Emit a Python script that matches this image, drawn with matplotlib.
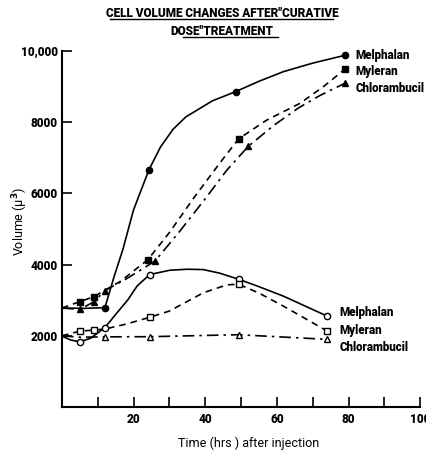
import matplotlib.pyplot as plt
from matplotlib.lines import Line2D

plt.rcParams['font.family'] = ['Roboto', 'DejaVu Sans']
plt.rcParams['font.weight'] = 'heavy'

# points (hrs, volume)
mel_hi_x = [12, 24.3, 48.5, 79]
mel_hi_y = [2790, 6665, 8860, 9880]
myl_hi_x = [5, 9, 24, 49.3, 79]
myl_hi_y = [2960, 3100, 4140, 7530, 9490]
chl_hi_x = [5, 9, 12, 26, 52, 79]
chl_hi_y = [2740, 2960, 3270, 4100, 7320, 9095]

mel_lo_x = [5, 12, 24.5, 49.3, 74.1]
mel_lo_y = [1830, 2230, 3720, 3590, 2550]
myl_lo_x = [5, 9, 24.5, 49.3, 74.1]
myl_lo_y = [2130, 2160, 2520, 3450, 2130]
chl_lo_x = [12, 24.5, 49.3, 74.1]
chl_lo_y = [1970, 1975, 2030, 1900]

# curve traces
mel_hi_tx = [0, 6, 12, 14.6, 17, 20, 24.3, 27.5, 31, 34.6, 42, 48.5, 55, 61.8, 70, 79]
mel_hi_ty = [2780, 2770, 2790, 3675, 4420, 5540, 6665, 7300, 7800, 8150, 8600, 8860, 9150, 9420, 9660, 9880]
myl_hi_tx = [0, 5, 9, 12, 16.4, 24, 30, 37, 44.2, 49.3, 57, 66.5, 73, 79]
myl_hi_ty = [2780, 2960, 3100, 3280, 3535, 4140, 4900, 5900, 6870, 7530, 8050, 8534, 9000, 9490]
chl_hi_tx = [0, 5, 9, 12, 18, 26, 33, 40, 46, 52, 59, 66, 72, 79]
chl_hi_ty = [2780, 2740, 2960, 3270, 3600, 4100, 4950, 5850, 6650, 7320, 7900, 8400, 8750, 9095]

mel_lo_tx = [0, 2.5, 5, 8, 12, 15, 18.4, 21, 24.5, 30, 35, 39.5, 44, 49.3, 55, 61.8, 68, 74.1]
mel_lo_ty = [1990, 1880, 1830, 1930, 2230, 2600, 3010, 3400, 3720, 3840, 3870, 3860, 3760, 3590, 3380, 3115, 2830, 2550]
myl_lo_tx = [0, 5, 9, 12, 18, 24.5, 30, 39.5, 46, 49.3, 55, 61.8, 68, 74.1]
myl_lo_ty = [2000, 2130, 2160, 2190, 2330, 2520, 2695, 3210, 3430, 3450, 3200, 2835, 2480, 2130]
chl_lo_tx = [0, 5, 12, 24.5, 49.3, 74.1]
chl_lo_ty = [2000, 1960, 1970, 1975, 2030, 1900]

yticks = [2000, 4000, 6000, 8000, 10000]
ylabels = ['2000', '4000', '6000', '8000', '10,000']
xticks = [20, 40, 60, 80, 100]
xminor = [10, 30, 50, 70, 90]

fig = plt.figure(figsize=(4.27, 4.5), dpi=100)
ax = fig.add_axes([0.145, 0.0956, 0.839, 0.791])

lw = 1.2
ax.plot(mel_hi_tx, mel_hi_ty, color='black', lw=lw, ls='-')
ax.plot(myl_hi_tx, myl_hi_ty, color='black', lw=lw, ls=(0, (4, 3)))
ax.plot(chl_hi_tx, chl_hi_ty, color='black', lw=lw, ls=(0, (7, 3, 1.5, 3)))
ax.plot(mel_lo_tx, mel_lo_ty, color='black', lw=lw, ls='-')
ax.plot(myl_lo_tx, myl_lo_ty, color='black', lw=lw, ls=(0, (4, 3)))
ax.plot(chl_lo_tx, chl_lo_ty, color='black', lw=lw, ls=(0, (7, 3, 1.5, 3)))

ms = 4.5
ax.plot(mel_hi_x, mel_hi_y, 'o', color='black', ms=ms)
ax.plot(myl_hi_x, myl_hi_y, 's', color='black', ms=ms)
ax.plot(chl_hi_x, chl_hi_y, '^', color='black', ms=ms)
ax.plot(mel_lo_x, mel_lo_y, 'o', mfc='white', mec='black', mew=1, ms=ms)
ax.plot(myl_lo_x, myl_lo_y, 's', mfc='white', mec='black', mew=1, ms=ms)
ax.plot(chl_lo_x, chl_lo_y, '^', mfc='white', mec='black', mew=1, ms=ms)

ax.set_xlim(0, 100)
ax.set_ylim(0, 10000)
for s in ['top', 'right']:
    ax.spines[s].set_visible(False)
for s in ['left', 'bottom']:
    ax.spines[s].set_linewidth(1.5)

ax.set_xticks(xticks)
ax.set_xticks(xminor, minor=True)
ax.set_yticks(yticks)
ax.set_yticklabels(ylabels)
ax.tick_params(which='both', direction='in', length=7, width=1.2, labelsize=8.5)
ax.tick_params(axis='x', pad=4)
ax.tick_params(axis='y', pad=3)

ax.set_xlabel('Time (hrs ) after injection', fontsize=9)
ax.xaxis.set_label_coords(0.52, -0.083)
ax.set_ylabel('Volume (μ$^3$)', fontsize=9)
ax.yaxis.set_label_coords(-0.09, 0.52)

# series labels
for txt, yy in [('Melphalan', 9880), ('Myleran', 9420), ('Chlorambucil', 8960)]:
    ax.text(82, yy, txt, fontsize=8.3, va='center', ha='left')
for txt, yy in [('Melphalan', 2650), ('Myleran', 2140), ('Chlorambucil', 1660)]:
    ax.text(77.5, yy, txt, fontsize=8.3, va='center', ha='left')

fig.text(0.52, 0.969, 'CELL VOLUME CHANGES AFTER"CURATIVE', ha='center', va='center', fontsize=8.5)
fig.text(0.52, 0.929, 'DOSE"TREATMENT', ha='center', va='center', fontsize=8.5)
fig.add_artist(Line2D([110 / 427, 333 / 427], [1 - 18.5 / 450] * 2, color='black', lw=1))
fig.add_artist(Line2D([183 / 427, 278 / 427], [1 - 37 / 450] * 2, color='black', lw=1))

fig.savefig('out.png', dpi=100)
